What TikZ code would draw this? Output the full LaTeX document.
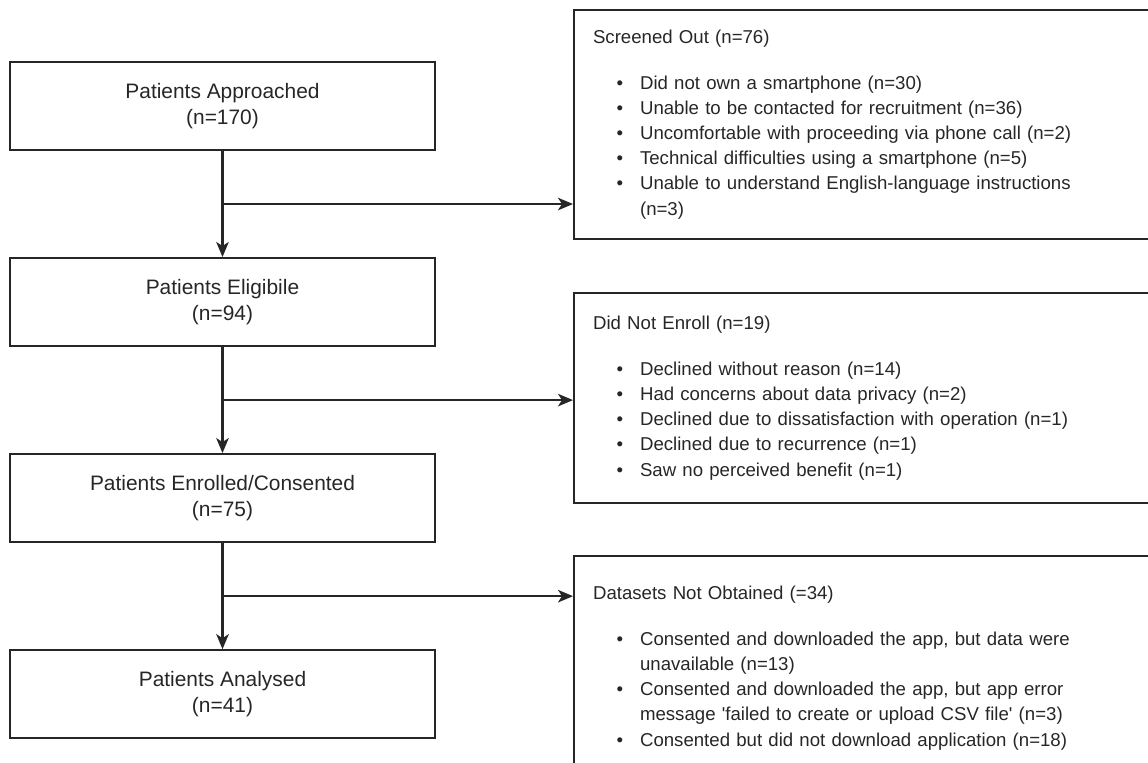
\documentclass[tikz,border=0pt]{standalone}
\usepackage{fontspec}
\setmainfont{Liberation Sans}
\usepackage{enumitem}
\usetikzlibrary{positioning,calc,arrows.meta}

\setlist[itemize]{nosep,leftmargin=0.94cm,labelsep=0.34cm,label=\textbullet}

\tikzset{
  stage/.style={draw=black!85,line width=1.2pt,minimum width=8.5cm,minimum height=1.76cm,
    align=center,text=black!85,font=\fontsize{11.9}{15.1}\selectfont},
  excl/.style={draw=black!85,line width=1.2pt,anchor=north west,minimum width=11.74cm,
    text width=10.98cm,inner xsep=0.38cm,align=left,text=black!85,
    font=\fontsize{10.6}{14.3}\selectfont},
}

\begin{document}
\begin{tikzpicture}[x=0.02cm,y=-0.02cm,>={Stealth[length=0.3cm,width=0.25cm,inset=0.08cm]},line width=1.2pt,draw=black!85]
\useasboundingbox (0,0) rectangle (1148,763);
\clip (0,0) rectangle (1148,763);

% nodes
\node[stage] (app) at (222.5,106) {Patients Approached\\(n=170)};
\node[stage] (elig) [below=2.12cm of app] {Patients Eligibile\\(n=94)};
\node[stage] (enr) [below=2.12cm of elig] {Patients Enrolled/Consented\\(n=75)};
\node[stage] (ana) [below=2.12cm of enr] {Patients Analysed\\(n=41)};

\node[excl,minimum height=4.58cm] (out1) at (573,9) {Screened Out (n=76)\par\vspace{11.8pt}
\begin{itemize}
\item Did not own a smartphone (n=30)
\item Unable to be contacted for recruitment (n=36)
\item Uncomfortable with proceeding via phone call (n=2)
\item Technical difficulties using a smartphone (n=5)
\item Unable to understand English-language instructions\newline (n=3)
\end{itemize}};
\node[excl,minimum height=4.2cm] (out2) at (573,292) {Did Not Enroll (n=19)\par\vspace{11.8pt}
\begin{itemize}
\item Declined without reason (n=14)
\item Had concerns about data privacy (n=2)
\item Declined due to dissatisfaction with operation (n=1)
\item Declined due to recurrence (n=1)
\item Saw no perceived benefit (n=1)
\end{itemize}};
\node[excl,minimum height=4.48cm] (out3) at (573,555) {Datasets Not Obtained (=34)\par\vspace{11.8pt}
\begin{itemize}
\item Consented and downloaded the app, but data were\newline unavailable (n=13)
\item Consented and downloaded the app, but app error\newline message \textquotesingle failed to create or upload CSV file\textquotesingle{} (n=3)
\item Consented but did not download application (n=18)
\end{itemize}};

% branch points
\coordinate (br1) at ($(app.south)!0.5!(elig.north)$);
\coordinate (br2) at ($(elig.south)!0.5!(enr.north)$);
\coordinate (br3) at ($(enr.south)!0.5!(ana.north)$);

% arrows
\draw[->] (app) -- (elig);
\draw[->] (elig) -- (enr);
\draw[->] (enr) -- (ana);
\draw[->] (br1) -- (br1 -| out1.west);
\draw[->] (br2) -- (br2 -| out2.west);
\draw[->] (br3) -- (br3 -| out3.west);
\end{tikzpicture}
\end{document}
